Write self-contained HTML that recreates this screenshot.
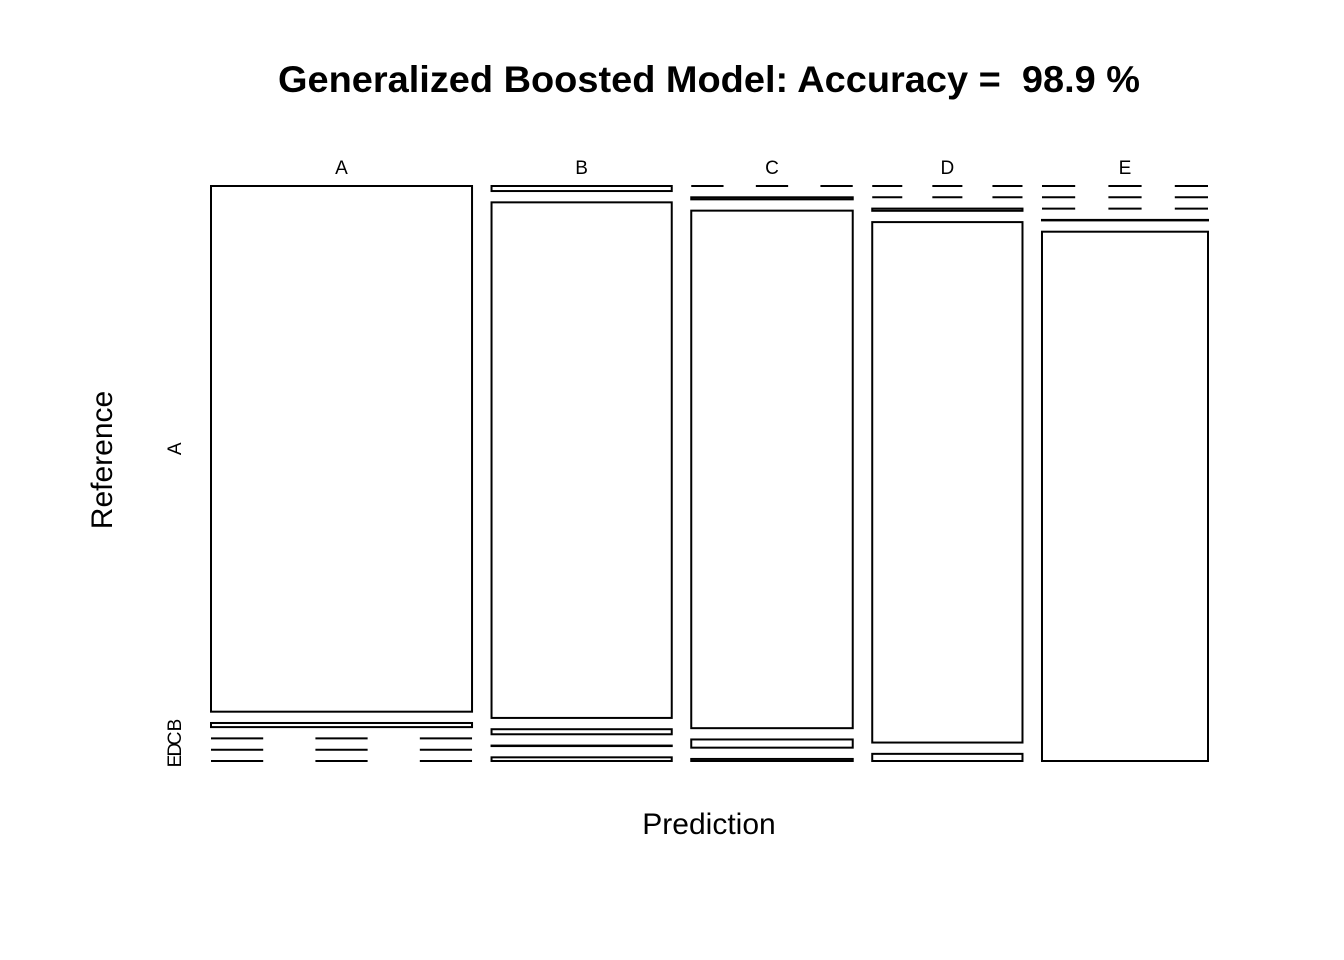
<!DOCTYPE html>
<html><head><meta charset="utf-8"><style>
body{margin:0;background:#fff}
svg{display:block}
text{font-family:"Liberation Sans",Arial,sans-serif;fill:#000}
</style></head><body>
<svg id="chart" width="1344" height="960" viewBox="0 0 1344 960">
<rect width="1344" height="960" fill="#fff"/>
<text x="709" y="92" text-anchor="middle" font-size="37" font-weight="bold" textLength="862" lengthAdjust="spacingAndGlyphs">Generalized Boosted Model: Accuracy =&#160; 98.9 %</text>
<text x="709" y="834" text-anchor="middle" font-size="30">Prediction</text>
<text transform="translate(112,460) rotate(-90)" text-anchor="middle" font-size="30">Reference</text>
<g id="marks"></g>
</svg>
<script>
const categories = ["A","B","C","D","E"];
// counts[prediction][reference]
const predA = [1660, 13, 0, 0, 0];
const predB = [11, 1124, 11, 1, 8];
const predC = [0, 4, 1011, 16, 4];
const predD = [0, 0, 4, 946, 13];
const predE = [0, 0, 0, 1, 1063];
const counts = [predA, predB, predC, predD, predE];

const svgNS = "http://www.w3.org/2000/svg";
const g = document.getElementById("marks");
const X0 = 211, X1 = 1208, Y0 = 186, Y1 = 761, GX = 19.5, GY = 11.3;
const colTot = counts.map(c => c.reduce((a, b) => a + b, 0));
const grand = colTot.reduce((a, b) => a + b, 0);
const availW = (X1 - X0) - GX * (categories.length - 1);
const availH = (Y1 - Y0) - GY * (categories.length - 1);
function xScale(cum) { return X0 + cum / grand * availW; }
let cumX = 0;
counts.forEach((col, i) => {
  const x = xScale(cumX) + i * GX;
  const w = colTot[i] / grand * availW;
  cumX += colTot[i];
  const lab = document.createElementNS(svgNS, "text");
  
  
  lab.setAttribute("x", x + w / 2); lab.setAttribute("y", 174);
  lab.setAttribute("text-anchor", "middle"); lab.setAttribute("font-size", "19");
  lab.textContent = categories[i];
  g.appendChild(lab);
  let y = Y0;
  col.forEach((v, j) => {
    const h = v / colTot[i] * availH;
    if (v === 0) {
      const l = document.createElementNS(svgNS, "line");
      
      
      l.setAttribute("x1", x); l.setAttribute("x2", x + w);
      l.setAttribute("y1", y); l.setAttribute("y2", y);
      l.setAttribute("stroke", "#000"); l.setAttribute("stroke-width", "2");
      l.setAttribute("stroke-dasharray", (w / 5) + " " + (w / 5));
      g.appendChild(l);
    } else {
      const r = document.createElementNS(svgNS, "rect");
      
      
      r.setAttribute("x", x); r.setAttribute("y", y);
      r.setAttribute("width", w); r.setAttribute("height", Math.max(h, 0.5));
      r.setAttribute("fill", "none"); r.setAttribute("stroke", "#000"); r.setAttribute("stroke-width", "2");
      g.appendChild(r);
    }
    if (i === 0) {
      const t = document.createElementNS(svgNS, "text");
      
      
      const cy = y + h / 2;
      t.setAttribute("transform", "translate(181," + cy + ") rotate(-90)");
      t.setAttribute("text-anchor", "middle"); t.setAttribute("font-size", "19");
      t.textContent = categories[j];
      g.appendChild(t);
    }
    y += h + GY;
  });
});
</script>
</body></html>
